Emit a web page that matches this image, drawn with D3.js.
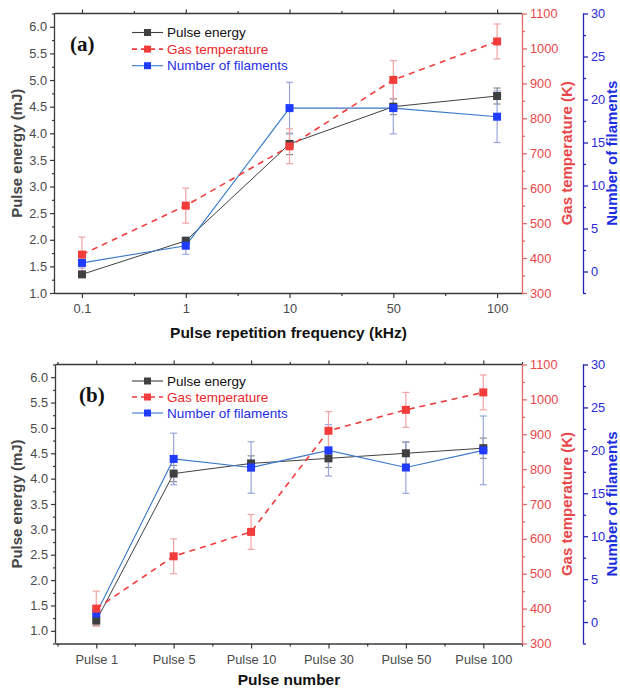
<!DOCTYPE html>
<html>
<head>
<meta charset="utf-8">
<script src="https://cdn.jsdelivr.net/npm/d3@7"></script>
<style>
  html, body { margin: 0; padding: 0; background: #fff; }
  svg { display: block; font-family: "Liberation Sans", Arial, sans-serif; }
</style>
</head>
<body>
<svg id="chart" width="620" height="689"></svg>
<script>
// ---- panel (a): pulse repetition frequency ----
const freqLabels = ["0.1", "1", "10", "50", "100"];
const freqEnergy = [1.35, 1.98, 3.80, 4.50, 4.70];
const freqEnergyErr = [0.04, 0.06, 0.20, 0.15, 0.15];
const freqTemp = [410, 550, 720, 910, 1020];
const freqTempErr = [50, 50, 50, 55, 50];
const freqFil = [1, 3, 19, 19, 18];
const freqFilErr = [0.6, 1, 3, 3, 3];

// ---- panel (b): pulse number ----
const pulseLabels = ["Pulse 1", "Pulse 5", "Pulse 10", "Pulse 30", "Pulse 50", "Pulse 100"];
const pulseEnergy = [1.20, 4.10, 4.30, 4.40, 4.50, 4.60];
const pulseEnergyErr = [0.10, 0.16, 0.15, 0.18, 0.22, 0.20];
const pulseTemp = [400, 550, 620, 910, 970, 1020];
const pulseTempErr = [50, 50, 50, 55, 50, 50];
const pulseFil = [1, 19, 18, 20, 18, 20];
const pulseFilErr = [0.5, 3, 3, 3, 3, 4];

// axis ticks
const energyTicks = [1.0, 1.5, 2.0, 2.5, 3.0, 3.5, 4.0, 4.5, 5.0, 5.5, 6.0];
const tempTicks = [300, 400, 500, 600, 700, 800, 900, 1000, 1100];
const filTicks = [0, 5, 10, 15, 20, 25, 30];

const legendNames = ["Pulse energy", "Gas temperature", "Number of filaments"];

const C = {
  black: "#404040", blackErr: "#8a8a8a",
  red: "#f23c3c", redErr: "#f2a3a3", redAxis: "#e36a6a", redText: "#e8474a",
  blue: "#1f3cff", blueLine: "#3a78c9", blueErr: "#98a6dc", blueAxis: "#2424b8", blueText: "#2a2ad6",
  axis: "#3a3a3a", text: "#4a4a4a"
};

const svg = d3.select("#chart");

function panel(cfg) {
  const g = svg.append("g");
  const n = cfg.labels.length;
  const x = d3.scaleLinear().domain(cfg.xDomain).range([cfg.x0, cfg.x1]);
  const yL = d3.scaleLinear().domain(cfg.energyDomain).range([cfg.y1, cfg.y0]);
  const yR = d3.scaleLinear().domain([300, 1100]).range([cfg.y1, cfg.y0]);
  const yB = d3.scaleLinear().domain([-2.5, 30]).range([cfg.y1, cfg.y0]);
  const idx = d3.range(n);
  const minorX = d3.range(n + 1).map(i => i - 0.5).filter(v => v >= cfg.xDomain[0] && v <= cfg.xDomain[1]);

  // frame: top line
  const frame = g.append("g").attr("stroke", C.axis).attr("stroke-width", 1.3).attr("fill", "none");
  frame.append("line").attr("x1", cfg.x0).attr("x2", cfg.x1).attr("y1", cfg.y0).attr("y2", cfg.y0);

  // bottom axis
  const xAxis = d3.axisBottom(x).tickValues(idx).tickFormat(i => cfg.labels[i]).tickSize(5).tickPadding(6);
  const gx = g.append("g").attr("transform", `translate(0,${cfg.y1})`).call(xAxis);
  gx.select(".domain").attr("d", `M${cfg.x0},0.5H${cfg.x1}`);
  g.append("g").attr("transform", `translate(0,${cfg.y1})`)
    .call(d3.axisBottom(x).tickValues(minorX).tickFormat("").tickSize(3)).select(".domain").remove();
  // top mirror ticks
  g.append("g").attr("transform", `translate(0,${cfg.y0})`)
    .call(d3.axisTop(x).tickValues(idx).tickFormat("").tickSize(4)).select(".domain").remove();
  g.append("g").attr("transform", `translate(0,${cfg.y0})`)
    .call(d3.axisTop(x).tickValues(minorX).tickFormat("").tickSize(2.5)).select(".domain").remove();

  // left axis
  const gl = g.append("g").attr("transform", `translate(${cfg.x0},0)`)
    .call(d3.axisLeft(yL).tickValues(energyTicks).tickFormat(d3.format(".1f")).tickSize(5).tickPadding(3));
  gl.select(".domain").attr("d", `M-0.5,${cfg.y0}V${cfg.y1}`);
  const minorE = d3.range(energyTicks.length * 2 + 2).map(i => 0.75 + i * 0.25)
    .filter(v => v >= cfg.energyDomain[0] && v <= cfg.energyDomain[1] && !energyTicks.some(t => Math.abs(t - v) < 1e-6));
  g.append("g").attr("transform", `translate(${cfg.x0},0)`)
    .call(d3.axisLeft(yL).tickValues(minorE).tickFormat("").tickSize(3)).select(".domain").remove();

  [gx, gl].forEach(a => {
    a.selectAll(".domain, .tick line").attr("stroke", C.axis).attr("stroke-width", 1.3);
    a.selectAll("text").attr("fill", C.text).style("font-size", "12.8px");
  });
  g.selectAll(".tick line").attr("stroke", C.axis).attr("stroke-width", 1.2);

  // red (temperature) axis on the right frame
  const gr = g.append("g").attr("transform", `translate(${cfg.x1},0)`)
    .call(d3.axisRight(yR).tickValues(tempTicks).tickFormat(d3.format("d")).tickSize(5).tickPadding(3));
  gr.select(".domain").attr("d", `M0.5,${cfg.y0}V${cfg.y1}`);
  const minorT = d3.range(8).map(i => 350 + i * 100);
  gr.append("g").call(d3.axisRight(yR).tickValues(minorT).tickFormat("").tickSize(3)).select(".domain").remove();
  gr.selectAll(".domain, .tick line").attr("stroke", C.redAxis).attr("stroke-width", 1.3);
  gr.selectAll("text").attr("fill", C.redText).style("font-size", "12.8px");

  // blue (filaments) axis, offset to the right
  const gb = g.append("g").attr("transform", `translate(${cfg.bx},0)`)
    .call(d3.axisRight(yB).tickValues(filTicks).tickFormat(d3.format("d")).tickSize(5).tickPadding(3));
  gb.select(".domain").attr("d", `M0.5,${cfg.y0}V${cfg.y1}`);
  const minorF = d3.range(7).map(i => -2.5 + i * 5);
  gb.append("g").call(d3.axisRight(yB).tickValues(minorF).tickFormat("").tickSize(3)).select(".domain").remove();
  gb.selectAll(".domain, .tick line").attr("stroke", C.blueAxis).attr("stroke-width", 1.3);
  gb.selectAll("text").attr("fill", C.blueText).style("font-size", "12.8px");

  // series
  const series = [
    { vals: cfg.energy, err: cfg.energyErr, y: yL, line: C.black, mark: C.black, errC: C.blackErr, dash: null, w: 1 },
    { vals: cfg.fil, err: cfg.filErr, y: yB, line: C.blueLine, mark: C.blue, errC: C.blueErr, dash: null, w: 1.1 },
    { vals: cfg.temp, err: cfg.tempErr, y: yR, line: C.red, mark: C.red, errC: C.redErr, dash: "6,5", w: 1.6 }
  ];
  const cap = 3.5, ms = 8;
  series.forEach(s => {
    const eg = g.append("g").attr("stroke", s.errC).attr("stroke-width", 1.2).attr("fill", "none");
    idx.forEach(i => {
      const cx = x(i), t = s.y(s.vals[i] + s.err[i]), b = s.y(s.vals[i] - s.err[i]);
      eg.append("line").attr("x1", cx).attr("x2", cx).attr("y1", t).attr("y2", b);
      eg.append("line").attr("x1", cx - cap).attr("x2", cx + cap).attr("y1", t).attr("y2", t);
      eg.append("line").attr("x1", cx - cap).attr("x2", cx + cap).attr("y1", b).attr("y2", b);
    });
  });
  series.forEach(s => {
    g.append("path")
      .attr("d", d3.line().x(i => x(i)).y(i => s.y(s.vals[i]))(idx))
      .attr("fill", "none").attr("stroke", s.line).attr("stroke-width", s.w)
      .attr("stroke-dasharray", s.dash);
  });
  series.forEach(s => {
    g.append("g").selectAll("rect").data(idx).join("rect")
      .attr("x", i => x(i) - ms / 2).attr("y", i => s.y(s.vals[i]) - ms / 2)
      .attr("width", ms).attr("height", ms).attr("fill", s.mark);
  });

  // panel letter
  g.append("text").attr("x", cfg.letterX).attr("y", cfg.letterY)
    .style("font-family", "'Liberation Serif', 'Times New Roman', serif")
    .style("font-weight", "bold").style("font-size", "21px").attr("fill", "#111")
    .text(cfg.letter);

  // legend
  const lx = 132, lw = 31;
  const legendStyle = [
    { line: C.black, mark: C.black, dash: null, txt: "#111" },
    { line: C.red, mark: C.red, dash: "5,4", txt: "#e8282a" },
    { line: C.blueLine, mark: C.blue, dash: null, txt: "#1d2ee6" }
  ];
  legendNames.forEach((name, k) => {
    const ly = cfg.legendY + k * cfg.legendStep;
    const st = legendStyle[k];
    g.append("line").attr("x1", lx).attr("x2", lx + lw).attr("y1", ly).attr("y2", ly)
      .attr("stroke", st.line).attr("stroke-width", k === 1 ? 1.6 : 1.1).attr("stroke-dasharray", st.dash);
    g.append("rect").attr("x", lx + lw / 2 - 3.5).attr("y", ly - 3.5).attr("width", 7).attr("height", 7).attr("fill", st.mark);
    g.append("text").attr("x", lx + lw + 4).attr("y", ly + 4.5).style("font-size", "13.5px")
      .attr("fill", st.txt).text(name);
  });

  // axis titles
  g.append("text").attr("transform", `translate(22,${(cfg.y0 + cfg.y1) / 2}) rotate(-90)`)
    .attr("text-anchor", "middle").style("font-weight", "bold").style("font-size", "15px")
    .attr("fill", "#474747").text("Pulse energy (mJ)");
  g.append("text").attr("transform", `translate(572,${(cfg.y0 + cfg.y1) / 2}) rotate(-90)`)
    .attr("text-anchor", "middle").style("font-weight", "bold").style("font-size", "15px")
    .attr("fill", C.redText).text("Gas temperature (K)");
  g.append("text").attr("transform", `translate(617,${(cfg.y0 + cfg.y1) / 2}) rotate(-90)`)
    .attr("text-anchor", "middle").style("font-weight", "bold").style("font-size", "15px")
    .attr("fill", "#1a2ee0").text("Number of filaments");
  g.append("text").attr("x", (cfg.x0 + cfg.x1) / 2).attr("y", cfg.xTitleY)
    .attr("text-anchor", "middle").style("font-weight", "bold").style("font-size", "15.5px")
    .attr("fill", "#111").text(cfg.xTitle);
}

panel({
  labels: freqLabels, energy: freqEnergy, energyErr: freqEnergyErr,
  temp: freqTemp, tempErr: freqTempErr, fil: freqFil, filErr: freqFilErr,
  x0: 55, x1: 522, y0: 13.5, y1: 293, bx: 583,
  xDomain: [-0.26, 4.24], energyDomain: [1.0, 6.25],
  letter: "(a)", letterX: 70, letterY: 51,
  legendY: 32.5, legendStep: 16.6,
  xTitle: "Pulse repetition frequency (kHz)", xTitleY: 338
});

panel({
  labels: pulseLabels, energy: pulseEnergy, energyErr: pulseEnergyErr,
  temp: pulseTemp, tempErr: pulseTempErr, fil: pulseFil, filErr: pulseFilErr,
  x0: 56, x1: 522, y0: 364.5, y1: 643.5, bx: 583,
  xDomain: [-0.52, 5.5], energyDomain: [0.75, 6.25],
  letter: "(b)", letterX: 79, letterY: 402,
  legendY: 381, legendStep: 16,
  xTitle: "Pulse number", xTitleY: 685
});
</script>
</body>
</html>
